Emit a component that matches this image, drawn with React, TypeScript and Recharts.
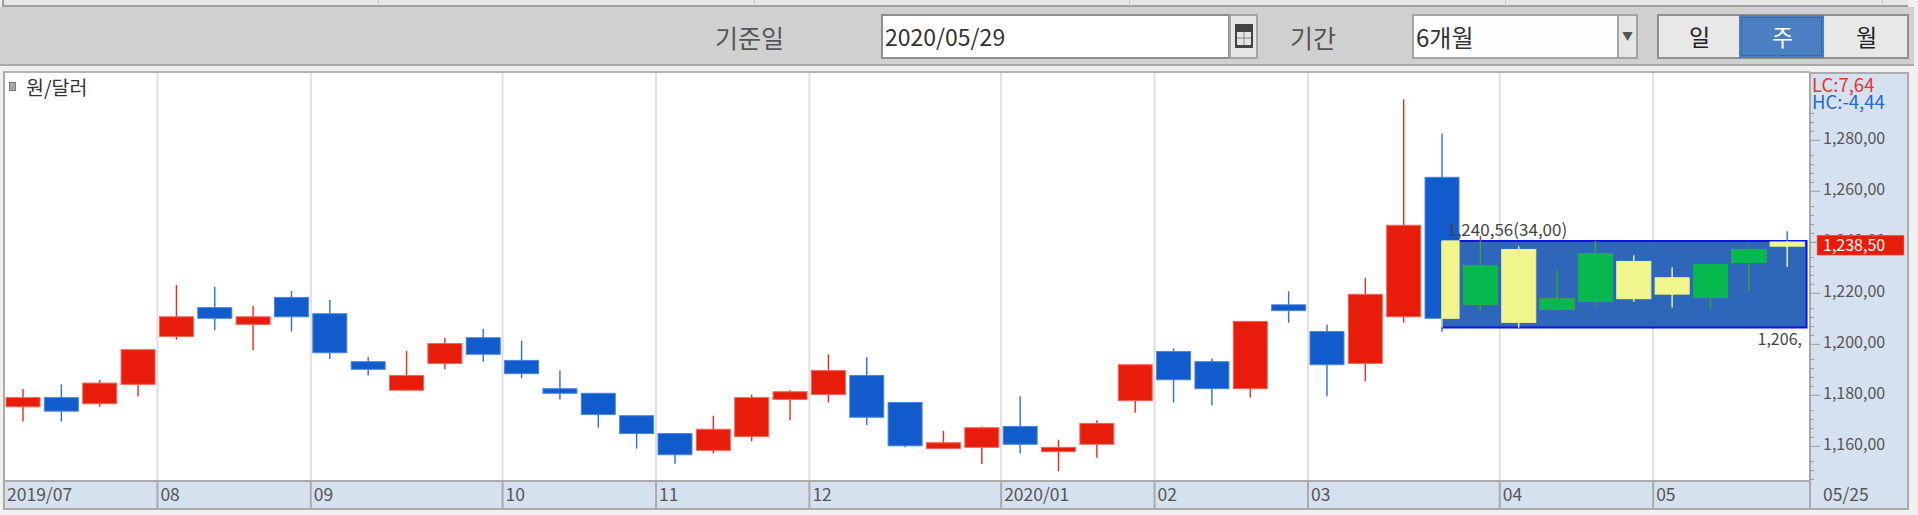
import { Bar, CartesianGrid, ComposedChart, ReferenceArea, XAxis, YAxis } from "recharts";

const FONT = '"Noto Sans CJK KR", "Noto Sans", sans-serif';

// weekly candles, won per dollar
const opens = [
  1175.5, 1179.1, 1176.7, 1184.3, 1203.1, 1214.4, 1207.8, 1218.4, 1212, 1193.2, 1182, 1192.5,
  1202.6, 1193.7, 1182.6, 1180.8, 1172, 1165, 1158.4, 1163.8, 1178.4, 1180.3, 1187.8, 1177.2,
  1159.1, 1159.6, 1167.8, 1157.9, 1160.8, 1177.9, 1197.2, 1193.2, 1182.6, 1215.5, 1205, 1192.5,
  1210.8, 1265.5, 1215.7, 1237.2, 1213.8, 1216.9, 1232.5, 1226.1, 1218.5, 1232.1, 1240.1,
];
const closes = [
  1179.1, 1173.8, 1184.8, 1197.9, 1210.8, 1210.2, 1210.8, 1210.8, 1196.7, 1190.2, 1187.8, 1200.3,
  1196.1, 1188.5, 1180.8, 1172.5, 1165, 1156.7, 1166.7, 1179.1, 1181.4, 1189.7, 1171.4, 1160.2,
  1161.4, 1167.3, 1160.8, 1159.6, 1169, 1192, 1186.1, 1182.6, 1209, 1213.2, 1192, 1219.6,
  1246.7, 1210.2, 1230.8, 1208.6, 1217.8, 1235.5, 1217.9, 1219.7, 1231.3, 1237.2, 1238.5,
];
const highs = [
  1182.5, 1184.3, 1186, 1197.9, 1223.3, 1222.6, 1215, 1220.9, 1217.4, 1195, 1197.4, 1202.6,
  1206.1, 1201.4, 1189.7, 1180.8, 1172, 1165, 1172, 1180.3, 1182, 1196.1, 1194.9, 1177.2,
  1166.1, 1167.8, 1179.6, 1162.6, 1170.2, 1192, 1198.4, 1194.4, 1209, 1220.8, 1207.8, 1226.1,
  1296.1, 1282.7, 1242.6, 1238.5, 1229, 1240.5, 1234.9, 1230.2, 1231.3, 1238.4, 1244.3,
];
const lows = [
  1169.7, 1169.7, 1175.5, 1179.6, 1201.8, 1205.5, 1197.8, 1205, 1194.2, 1187.8, 1182, 1190.2,
  1193.2, 1186.7, 1178.4, 1167.3, 1159.1, 1153.2, 1157.2, 1162, 1170.2, 1177.2, 1168.4, 1159.6,
  1159.1, 1153.1, 1157.2, 1150.2, 1155.5, 1173.2, 1177.2, 1176.1, 1179.1, 1208.5, 1179.6, 1185.5,
  1208.5, 1204.9, 1213.2, 1206.3, 1213.2, 1215, 1216.7, 1214.4, 1213.8, 1220.9, 1230.3,
];

const monthTicks = [-0.5, 3.5, 7.5, 12.5, 16.5, 20.5, 25.5, 29.5, 33.5, 38.5, 42.5];
const monthLabels = ["2019/07", "08", "09", "10", "11", "12", "2020/01", "02", "03", "04", "05"];
const lastLabel = "05/25";

const majorTicks = [1160, 1180, 1200, 1220, 1240, 1260, 1280];
const minorTicks = [
  1147, 1150.5, 1154, 1163.5, 1167, 1170.5, 1174, 1183.5, 1187, 1190.5, 1194, 1203.5, 1207, 1210.5,
  1214, 1223.5, 1227, 1230.5, 1234, 1243.5, 1247, 1250.5, 1254, 1263.5, 1267, 1270.5, 1274, 1283.5,
  1287, 1290.5,
];
const lastPrice = 1238.5;
const boxHigh = 1240.56;
const boxLow = 1206.56;
const boxStart = 37;

const xMin = -0.5;
const xMax = 46.59;

const data = opens.map((open, i) => ({
  i,
  open,
  close: closes[i],
  high: highs[i],
  low: lows[i],
}));

const money = (v: number) => v.toLocaleString("en-US", { minimumFractionDigits: 2 }).replace(".", ",");

function Candle(props: any) {
  const { x, y, width, height, payload } = props;
  const { open, close, high, low, i } = payload;
  const up = close >= open;
  const perUnit = height / (high - low);
  const toY = (v: number) => y + (high - v) * perUnit;
  const cx = x + width / 2;
  const bodyTop = Math.max(open, close);
  const bodyBottom = Math.min(open, close);

  const inBox = i >= boxStart;
  const altColor = up ? "#06b94f" : "#f0f58c";
  const clip = (v: number) => Math.min(boxHigh, Math.max(boxLow, v));
  const altLeft = i === boxStart ? cx : x;

  return (
    <g>
      <line x1={cx} x2={cx} y1={toY(high)} y2={toY(low)} stroke={up ? "#e8291c" : "#2a6fd6"} strokeWidth={1.4} />
      <rect
        x={x}
        y={toY(bodyTop)}
        width={width}
        height={toY(bodyBottom) - toY(bodyTop)}
        fill={up ? "#e81c0a" : "#125bcc"}
        stroke={up ? "#f0675a" : "#4a85dd"}
        strokeWidth={1}
      />
      {inBox && (
        <>
          <line x1={cx} x2={cx} y1={toY(clip(high))} y2={toY(clip(low))} stroke={altColor} strokeWidth={1.4} />
          <rect
            x={altLeft}
            y={toY(clip(bodyTop))}
            width={x + width - altLeft}
            height={toY(clip(bodyBottom)) - toY(clip(bodyTop))}
            fill={altColor}
            stroke={altColor}
            strokeWidth={1}
          />
        </>
      )}
    </g>
  );
}

function PriceTick(props: any) {
  const { x, y, payload } = props;
  const v = payload.value;
  if (v === lastPrice) {
    return (
      <g>
        <rect x={x + 7} y={y - 11} width={87} height={20} fill="#e81c0a" stroke="#f0908a" strokeWidth={0.5} />
        <text x={x + 13} y={y + 5} fontSize={16} fill="#fff" fontFamily={FONT}>
          {money(v)}
        </text>
      </g>
    );
  }
  if (majorTicks.includes(v)) {
    return (
      <g>
        <line x1={x} x2={x + 10} y1={y} y2={y} stroke="#999" />
        <text x={x + 13} y={y + 4} fontSize={16} fill="#555" fontFamily={FONT}>
          {money(v)}
        </text>
      </g>
    );
  }
  return <line x1={x} x2={x + 4} y1={y} y2={y} stroke="#999" />;
}

function MonthTick(props: any) {
  const { x, y, payload } = props;
  const idx = monthTicks.indexOf(payload.value);
  const isLast = idx < 0;
  return (
    <g>
      <line x1={x} x2={x} y1={y - 1} y2={y + 27} stroke="#aaa" strokeWidth={2} />
      <text x={x + (isLast ? 13 : 3)} y={y + 20} fontSize={17.5} fill="#555" fontFamily={FONT}>
        {isLast ? lastLabel : monthLabels[idx]}
      </text>
    </g>
  );
}

function BoxLabels(props: any) {
  const { x, y, width, height } = props.viewBox;
  return (
    <g fontFamily={FONT} fill="#444">
      <text x={x + 5} y={y - 5} fontSize={17}>
        {money(boxHigh)}({money(boxHigh - boxLow)})
      </text>
      <text x={x + width - 49} y={y + height + 17} fontSize={16}>
        1,206,
      </text>
    </g>
  );
}

const box = (left: number, top: number, w: number, h: number, style: any = {}) => ({
  position: "absolute" as const,
  left,
  top,
  width: w,
  height: h,
  boxSizing: "border-box" as const,
  ...style,
});

const label = (left: number, top: number, text: string, style: any = {}) => (
  <div style={{ position: "absolute", left, top, fontFamily: FONT, lineHeight: 1, whiteSpace: "nowrap", ...style }}>
    {text}
  </div>
);

export default function App() {
  return (
    <div style={box(0, 0, 1918, 515, { background: "#f0f0f0", overflow: "hidden" })}>
      {/* top strip */}
      <div style={box(2, 0, 1906, 7, { background: "#e6e6e6", borderBottom: "2px solid #a0a0a0", borderLeft: "2px solid #a0a0a0" })} />
      {[378, 754, 1129, 1505, 1882].map((x) => (
        <div key={x} style={box(x, 0, 1, 6, { background: "#c4c4c4" })} />
      ))}
      {/* toolbar */}
      <div style={box(0, 7, 1914, 59, { background: "#d0d0d0", borderBottom: "2px solid #a8a8a8" })} />
      {label(715, 25, "기준일", { fontSize: 25, color: "#555" })}
      <div style={box(881, 14, 349, 45, { background: "#fff", border: "2px solid #8e8e8e" })} />
      {label(885, 25, "2020/05/29", { fontSize: 23, color: "#333" })}
      <div style={box(1229, 14, 29, 45, { background: "#e6e6e6", border: "2px solid #a4a4a4" })} />
      <svg style={box(1235, 24, 18, 24)} viewBox="0 0 18 24">
        <rect width="18" height="24" fill="#444" />
        <rect x="2" y="8" width="14" height="13" fill="#e4e4e4" />
        <path d="M9 8v13M2 14h14" stroke="#888" />
      </svg>
      {label(1290, 25, "기간", { fontSize: 25, color: "#555" })}
      <div style={box(1412, 14, 226, 45, { background: "#fdfdfd", border: "2px solid #a4a4a4" })} />
      {label(1416, 25, "6개월", { fontSize: 24, color: "#333" })}
      <div style={box(1617, 14, 21, 45, { background: "#e6e6e6", border: "2px solid #a4a4a4" })} />
      {label(1622, 31, "▼", { fontSize: 11, color: "#555" })}
      <div style={box(1657, 14, 252, 45, { background: "#e8e8e8", border: "2px solid #909090" })} />
      <div style={box(1739, 15, 85, 43, { background: "#4a7fc1", outline: "1px dotted #2c4f80", outlineOffset: -3 })} />
      {label(1689, 25, "일", { fontSize: 23, color: "#222" })}
      {label(1772, 25, "주", { fontSize: 23, color: "#fff" })}
      {label(1856, 25, "월", { fontSize: 23, color: "#222" })}

      {/* chart panels */}
      <div style={box(4, 72, 1806, 410, { background: "#fff" })} />
      <div style={box(1809, 72, 100, 438, { background: "#d6e1ef", border: "2px solid #aaa" })} />
      <div style={box(3, 480, 1807, 30, { background: "#d6e1ef", border: "2px solid #aaa", borderRight: "none" })} />
      <div style={box(3, 71, 1807, 2, { background: "#b4b4b4" })} />
      <div style={box(3, 71, 2, 410, { background: "#aaa" })} />

      <ComposedChart
        width={1918}
        height={515}
        data={data}
        margin={{ top: 73, right: 10, bottom: 6, left: 4 }}
        style={{ position: "absolute", left: 0, top: 0 }}
      >
        <CartesianGrid
          horizontal={false}
          verticalValues={monthTicks.slice(1)}
          stroke="#e0e0e0"
          strokeWidth={2}
        />
        <XAxis
          type="number"
          dataKey="i"
          domain={[xMin, xMax]}
          ticks={[...monthTicks, xMax]}
          interval={0}
          height={28}
          axisLine={{ stroke: "#aaa", strokeWidth: 2 }}
          tickLine={false}
          tickSize={0}
          tickMargin={0}
          tick={<MonthTick />}
          allowDataOverflow
        />
        <YAxis
          orientation="right"
          type="number"
          width={98}
          domain={[1146.4, 1306.4]}
          ticks={[...minorTicks, ...majorTicks, lastPrice]}
          interval={0}
          axisLine={{ stroke: "#aaa", strokeWidth: 2 }}
          tickLine={false}
          tickSize={0}
          tickMargin={0}
          tick={<PriceTick />}
          allowDataOverflow
        />
        <ReferenceArea
          x1={boxStart}
          x2={46.5}
          y1={boxLow}
          y2={boxHigh}
          fill="#1e5bb5"
          fillOpacity={0.93}
          stroke="#0a14ee"
          strokeWidth={2}
        />
        <Bar
          dataKey={(d: any) => [d.low, d.high]}
          barSize={34}
          shape={<Candle />}
          isAnimationActive={false}
        />
        {/* second pass only for the labels, they sit on top of the candles */}
        <ReferenceArea
          x1={boxStart}
          x2={46.5}
          y1={boxLow}
          y2={boxHigh}
          fill="none"
          stroke="none"
          zIndex={2000}
          label={<BoxLabels />}
        />
      </ComposedChart>

      {/* legend and range readout */}
      <div style={box(9, 82, 7, 9, { background: "#aaa", border: "1px solid #777" })} />
      {label(26, 77, "원/달러", { fontSize: 19.5, color: "#333" })}
      {label(1812, 75, "LC:7,64", { fontSize: 18.5, color: "#e8352c" })}
      {label(1812, 92, "HC:-4,44", { fontSize: 18.5, color: "#1f6ad0" })}
    </div>
  );
}
